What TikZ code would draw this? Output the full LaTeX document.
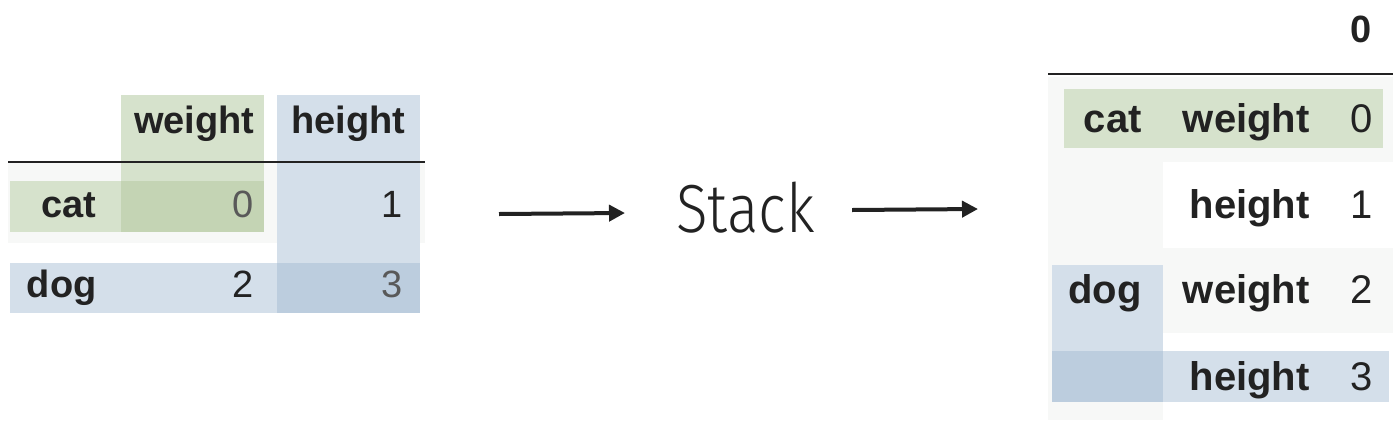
\documentclass[tikz,border=0pt]{standalone}
\usepackage{fontspec}
\setmainfont{Liberation Sans}
\newfontfamily\stackfont{Fira Sans Light}
\usetikzlibrary{arrows.meta}

\definecolor{grnlt}{RGB}{214,226,204}
\definecolor{grndk}{RGB}{196,212,180}
\definecolor{blult}{RGB}{212,223,234}
\definecolor{bludk}{RGB}{188,205,222}
\definecolor{faint}{RGB}{247,248,247}
\definecolor{ink}{RGB}{34,34,34}

\begin{document}
\begin{tikzpicture}[x=0.5pt,y=-0.5pt,
    lab/.style={anchor=base east,inner sep=0pt,text=ink,font=\fontsize{19}{19}\selectfont\bfseries},
    num/.style={anchor=base east,inner sep=0pt,text=ink,font=\fontsize{19}{19}\selectfont},
    rlab/.style={lab,font=\fontsize{20}{20}\selectfont\bfseries},
    rnum/.style={num,font=\fontsize{20}{20}\selectfont},
    flow/.style={line width=2pt,draw=ink,-{Triangle[length=8pt,width=8pt]}}]
   \useasboundingbox (0,0) rectangle (1400,434);
   % left frame
   \fill[faint] (8,163) rectangle (425,243);
   \fill[grnlt] (121,95) rectangle (264,232);
   \fill[grnlt] (10,181) rectangle (121,232);
   \fill[grndk] (121,181) rectangle (264,232);
   \fill[blult] (277,95) rectangle (420,313);
   \fill[blult] (10,263) rectangle (277,313);
   \fill[bludk] (277,263) rectangle (420,313);
   \draw[line width=1.1pt,ink] (8,162) -- (425,162);
   \node[lab] (lw) at (255,133) {weight};
   \node[lab] (lh) at (406,133) {height};
   \node[lab] (lcat) at (97,217) {cat};
   \node[lab] (ldog) at (97,297) {dog};
   \node[num,text=ink!75] (l0) at (254,217) {0};
   \node[num] (l1) at (403,217) {1};
   \node[num] (l2) at (254,297) {2};
   \node[num,text=ink!75] (l3) at (403,297) {3};
   % stack label and arrows
   \node[anchor=base west,inner sep=0pt,text=ink,font=\stackfont\fontsize{34}{34}\selectfont] (stack) at (676,232) {\scalebox{0.86}[1]{Stack}};
   \coordinate (inA) at (499,214);
   \coordinate (inB) at (625,213);
   \coordinate (outA) at (852,210);
   \coordinate (outB) at (978,209);
   \draw[flow] (inA) -- (inB);
   \draw[flow] (outA) -- (outB);
   % right frame
   \fill[faint] (1048,77) rectangle (1393,162);
   \fill[faint] (1048,162) rectangle (1163,420);
   \fill[faint] (1163,248) rectangle (1393,333);
   \fill[grnlt] (1064,89) rectangle (1383,148);
   \fill[blult] (1052,265) rectangle (1163,351);
   \fill[bludk] (1052,351) rectangle (1163,402);
   \fill[blult] (1163,351) rectangle (1389,402);
   \draw[line width=1.3pt,ink] (1048,74) -- (1393,74);
   \node[rlab,font=\fontsize{19}{19}\selectfont\bfseries] (rhead) at (1372,42) {0};
   \node[rlab] (rcat) at (1142,132) {cat};
   \node[rlab] (rdog) at (1142,303) {dog};
   \node[rlab] (rw1) at (1310,132) {weight};
   \node[rlab] (rh1) at (1310,218) {height};
   \node[rlab] (rw2) at (1310,303) {weight};
   \node[rlab] (rh2) at (1310,390) {height};
   \node[rnum] (r0) at (1373,132) {0};
   \node[rnum] (r1) at (1373,218) {1};
   \node[rnum] (r2) at (1373,303) {2};
   \node[rnum] (r3) at (1373,390) {3};
\end{tikzpicture}
\end{document}
